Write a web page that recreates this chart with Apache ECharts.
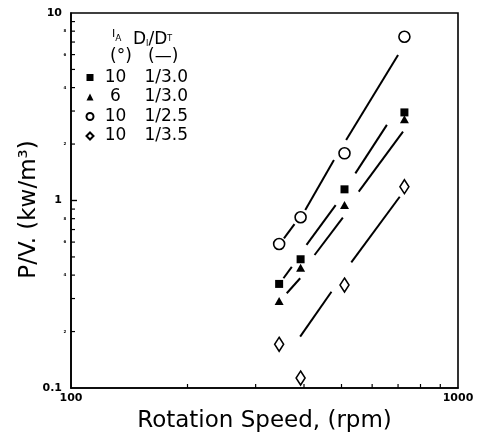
<!DOCTYPE html>
<html><head><meta charset="utf-8">
<script src="https://cdn.jsdelivr.net/npm/echarts@6/dist/echarts.min.js"></script>
<style>html,body{margin:0;padding:0;background:#fff}#c{width:480px;height:439px}</style>
</head><body><div id="c"></div>
<script>
// ---- data ----
const speeds = [345, 392, 509, 727];                // rpm
const angles = ['10', '6', '10', '10'];             // blade angle (deg)
const ratios = ['1/3.0', '1/3.0', '1/2.5', '1/3.5']; // D_I/D_T
const pvA = [0.359, 0.486, 1.147, 2.95];   // 10, 1/3.0  (filled square)
const pvB = [0.291, 0.438, 0.946, 2.71];   // 6, 1/3.0   (filled triangle)
const pvC = [0.586, 0.814, 1.785, 7.47];   // 10, 1/2.5  (open circle)
const pvD = [0.171, 0.113, 0.354, 1.185];  // 10, 1/3.5  (open diamond)
// fitted correlation lines (drawn as broken segments)
const fitA = [[[354, 0.385], [372, 0.443]], [[406, 0.58], [483, 0.945]], [[543, 1.396], [655, 2.53]]];
const fitB = [[[361, 0.32], [391, 0.385]], [[426, 0.512], [504, 0.81]], [[554, 1.114], [721, 2.33]]];
const fitC = [[[355, 0.628], [378, 0.749]], [[403, 0.89], [478, 1.644]], [[514, 2.10], [700, 5.97]]];
const fitD = [[[391, 0.188], [471, 0.326]], [[530, 0.468], [707, 1.047]]];
const xRange = [100, 1000];
const yRange = [0.1, 10];
const xMinor = [200, 300, 400, 500, 600, 700, 800, 900];
const yMinor = [0.2, 0.3, 0.4, 0.5, 0.6, 0.7, 0.8, 0.9, 2, 3, 4, 5, 6, 7, 8, 9];
const yMinorLabels = [0.2, 0.4, 0.6, 0.8, 2, 4, 6, 8];

const chart = echarts.init(document.getElementById('c'), null, {renderer: 'canvas'});
const FONT = 'DejaVu Sans';
const names = angles.map((a, i) => a + ' ' + ratios[i]);
const markerDefs = [
  {data: pvA, symbol: 'rect', size: 8, fill: '#000'},
  {data: pvB, symbol: 'triangle', size: [9, 8], fill: '#000'},
  {data: pvC, symbol: 'circle', size: 11, fill: '#fff'},
  {data: pvD, symbol: 'diamond', size: [9, 14], fill: '#fff'}
];
const fits = [fitA, fitB, fitC, fitD];

const series = [];
fits.forEach(segs => segs.forEach(seg => {
  series.push({type: 'line', data: seg, symbol: 'none', silent: true, z: 2,
    lineStyle: {color: '#000', width: 2}});
}));
markerDefs.forEach((m, i) => {
  series.push({
    name: names[i], type: 'scatter', z: 5,
    data: speeds.map((s, k) => [s, m.data[k]]),
    symbol: m.symbol, symbolSize: m.size,
    itemStyle: {color: m.fill, borderColor: '#000', borderWidth: m.fill === '#fff' ? 1.6 : 0, opacity: 1}
  });
});
// axis minor ticks and tiny minor labels
series.push({
  type: 'custom', silent: true, z: 6, clip: false,
  data: xMinor.map(v => [v]),
  renderItem: (p, api) => {
    const pt = api.coord([api.value(0), yRange[0]]);
    return {type: 'line', shape: {x1: pt[0], y1: pt[1], x2: pt[0], y2: pt[1] - 4},
      style: {stroke: '#000', lineWidth: 1.2}};
  }
});
series.push({
  type: 'custom', silent: true, z: 6, clip: false,
  data: yMinor.map(v => [v]),
  renderItem: (p, api) => {
    const v = api.value(0);
    const pt = api.coord([xRange[0], v]);
    const children = [{type: 'line', shape: {x1: pt[0], y1: pt[1], x2: pt[0] + 4, y2: pt[1]},
      style: {stroke: '#000', lineWidth: 1.2}}];
    if (yMinorLabels.indexOf(v) >= 0) {
      children.push({type: 'text', style: {text: String(Math.round(v >= 1 ? v : v * 10)),
        x: pt[0] - 6, y: pt[1], align: 'center', verticalAlign: 'middle',
        font: 'bold 4px ' + FONT, fill: '#000'}});
    }
    return {type: 'group', children};
  }
});
series.push({
  type: 'custom', silent: true, z: 6, clip: false,
  data: [[1]],
  renderItem: (p, api) => {
    const pt = api.coord([xRange[0], 1]);
    return {type: 'line', shape: {x1: pt[0], y1: pt[1], x2: pt[0] + 6, y2: pt[1]},
      style: {stroke: '#000', lineWidth: 1.4}};
  }
});

chart.setOption({
  animation: false,
  backgroundColor: '#fff',
  grid: {left: 71, top: 13, width: 387, height: 375, show: true, borderColor: '#000', borderWidth: 1.6},
  xAxis: {
    type: 'log', logBase: 10, min: xRange[0], max: xRange[1],
    name: 'Rotation Speed, (rpm)', nameLocation: 'middle', nameGap: 22, nameMoveOverlap: false,
    nameTextStyle: {fontFamily: FONT, fontSize: 23, color: '#000'},
    axisLine: {lineStyle: {color: '#000', width: 1.6}},
    axisTick: {show: false}, minorTick: {show: false}, splitLine: {show: false},
    axisLabel: {color: '#000', fontFamily: FONT, fontWeight: 'bold', fontSize: 11, margin: 5,
      formatter: v => String(v)}
  },
  yAxis: {
    type: 'log', logBase: 10, min: yRange[0], max: yRange[1],
    name: 'P/V. (kw/m³)', nameLocation: 'middle', nameGap: 30, nameRotate: 90, nameMoveOverlap: false,
    nameTextStyle: {fontFamily: FONT, fontSize: 23, color: '#000', padding: [0, 18, 0, 0]},
    axisLine: {lineStyle: {color: '#000', width: 1.6}},
    axisTick: {show: false}, minorTick: {show: false}, splitLine: {show: false},
    axisLabel: {color: '#000', fontFamily: FONT, fontWeight: 'bold', fontSize: 11, margin: 9,
      formatter: v => String(v)}
  },
  legend: {
    orient: 'vertical', left: 85.5, top: 69, padding: 0, itemGap: 2.5,
    itemWidth: 7, itemHeight: 7, selectedMode: false,
    data: names,
    formatter: n => { const p = n.split(' '); return '{a|' + p[0] + '}{b|' + p[1] + '}'; },
    textStyle: {
      color: '#000', fontFamily: FONT, fontSize: 17,
      rich: {
        a: {width: 34, align: 'right', fontFamily: FONT, fontSize: 17, lineHeight: 17, color: '#000'},
        b: {padding: [0, 0, 0, 12], fontFamily: FONT, fontSize: 17, lineHeight: 17, color: '#000'}
      }
    }
  },
  graphic: [
    {type: 'text', left: 112, top: 29, style: {
      text: '{i|I}{s|A}', rich: {i: {fontFamily: FONT, fontSize: 11, fill: '#000'},
        s: {fontFamily: FONT, fontSize: 9, fill: '#000', padding: [8, 0, 0, 0]}}}},
    {type: 'text', left: 110, top: 48, style: {text: '(°)', font: '17px ' + FONT, fill: '#000'}},
    {type: 'text', left: 133, top: 31, style: {
      text: '{d|D}{s|I}{d|/D}{t|T}', rich: {d: {fontFamily: FONT, fontSize: 17, fill: '#000'},
        s: {fontFamily: FONT, fontSize: 8, fill: '#000', padding: [8, 0, 0, 0]},
        t: {fontFamily: FONT, fontSize: 8, fill: '#000', padding: [0, 0, 2, 0]}}}},
    {type: 'text', left: 148, top: 48, style: {text: '(—)', font: '17px ' + FONT, fill: '#000'}}
  ],
  series
});
</script></body></html>
